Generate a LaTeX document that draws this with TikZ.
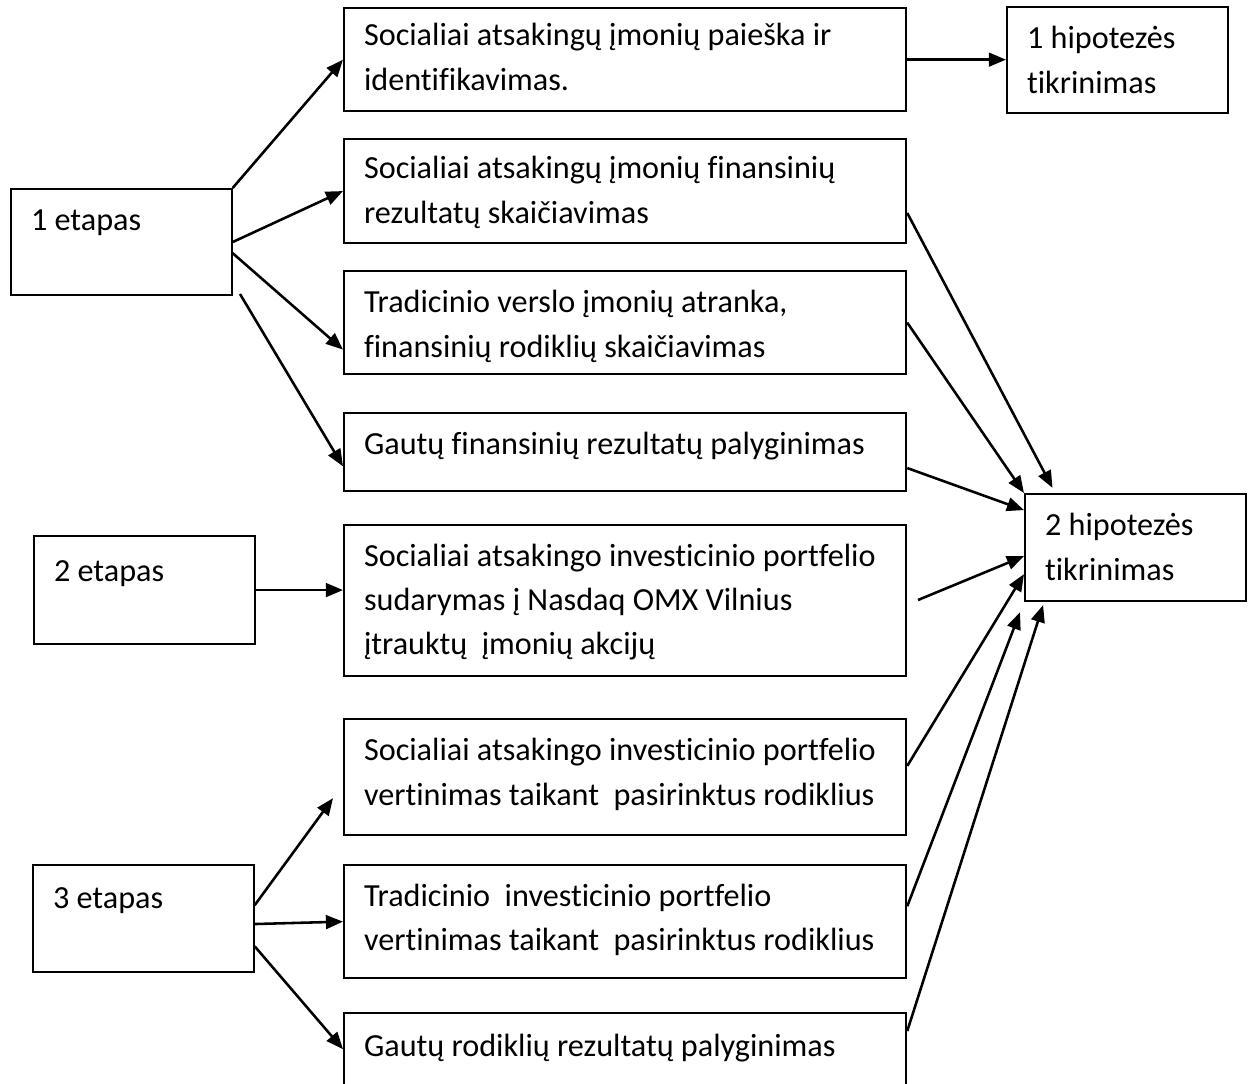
\documentclass[tikz,border=0pt]{standalone}
\usepackage{fontspec}
\setmainfont{Carlito}[Ligatures=NoCommon]
\usetikzlibrary{arrows.meta}
\begin{document}
\begin{tikzpicture}[x=0.351pt,y=-0.351pt]
    \tikzset{box/.style={draw,line width=0.75pt,anchor=north west,inner xsep=7pt,inner ysep=0pt,align=flush left,font=\fontsize{11.3}{15.6}\selectfont},
             wide/.style={box,text width=183.3pt},
             narrow/.style={box,text width=63.4pt},
             link/.style={line width=0.9pt,-{Triangle[length=6pt,width=4.8pt]}}};
    \useasboundingbox (0,0) rectangle (1249,1084);
    \clip (0,0) rectangle (1249,1084);
    \node[narrow,text height=14.7pt,text depth=22.5pt] (e1) at (10,188) {1 etapas};
    \node[narrow,text height=15.8pt,text depth=22.1pt] (e2) at (33,535) {2 etapas};
    \node[narrow,text height=15.1pt,text depth=22.5pt] (e3) at (32,864) {3 etapas};
    \node[wide,text height=13.3pt,text depth=22.9pt] (a1) at (343,7) {Socialiai atsakingų įmonių paieška ir\\identifikavimas.};
    \node[wide,text height=14pt,text depth=22.5pt] (a2) at (343,138) {Socialiai atsakingų įmonių finansinių\\rezultatų skaičiavimas};
    \node[wide,text height=14.7pt,text depth=21.5pt] (a3) at (343,270) {Tradicinio verslo įmonių atranka,\\finansinių rodiklių skaičiavimas};
    \node[wide,text height=14.4pt,text depth=13pt] (a4) at (343,412) {Gautų finansinių rezultatų palyginimas};
    \node[wide,text height=14.4pt,text depth=38.6pt] (b) at (343,524) {Socialiai atsakingo investicinio portfelio\\sudarymas į Nasdaq OMX Vilnius\\įtrauktų\ \ įmonių akcijų};
    \node[wide,text height=14.7pt,text depth=26pt] (c1) at (343,718) {Socialiai atsakingo investicinio portfelio\\vertinimas taikant\ \ pasirinktus rodiklius};
    \node[wide,text height=14.4pt,text depth=25.3pt] (c2) at (343,864) {Tradicinio\ \ investicinio portfelio\\vertinimas taikant\ \ pasirinktus rodiklius};
    \node[wide,text height=15.3pt,text depth=12.1pt] (c3) at (343,1012) {Gautų rodiklių rezultatų palyginimas};
    \node[narrow,text height=14.7pt,text depth=22.5pt] (h1) at (1006,6) {1 hipotezės\\tikrinimas};
    \node[narrow,text height=14.7pt,text depth=22.9pt] (h2) at (1024,493) {2 hipotezės\\tikrinimas};
    \coordinate (e1free) at (240,294);
    \coordinate (bfree) at (918,600);
    \draw[link] (e1.north east) -- (a1.west);
    \draw[link] (e1.east) -- (a2.west);
    \draw[link] ([yshift=-3.9pt]e1.east) -- ([yshift=9pt]a3.south west);
    \draw[link] (e1free) -- ([yshift=-5pt]a4.west);
    \draw[link] (a1.east) -- (a1.east -| h1.west);
    \draw[link] (e2.east) -- (e2.east -| b.west);
    \draw[link] ([yshift=4.7pt]e3.east) -- ([shift={(-3.5pt,-7.4pt)}]c1.west);
    \draw[link] ([yshift=-1.9pt]e3.east) -- (c2.west);
    \draw[link] ([yshift=-9.7pt]e3.east) -- ([yshift=1pt]c3.west);
    \draw[link] ([yshift=-7.7pt]a2.east) -- ([shift={(10pt,1.8pt)}]h2.north west);
    \draw[link] (a3.east) -- (h2.north west);
    \draw[link] ([yshift=-5.6pt]a4.east) -- ([yshift=-6pt]h2.north west);
    \draw[link] (bfree) -- ([yshift=-3pt]h2.west);
    \draw[link] ([yshift=3.9pt]c1.east) -- ([yshift=-9.3pt]h2.west);
    \draw[link] ([yshift=5.4pt]c2.east) -- ([shift={(-1.4pt,-3.5pt)}]h2.south west);
    \draw[link] ([yshift=7.4pt]c3.east) -- ([shift={(6.7pt,-1pt)}]h2.south west);
\end{tikzpicture}
\end{document}
